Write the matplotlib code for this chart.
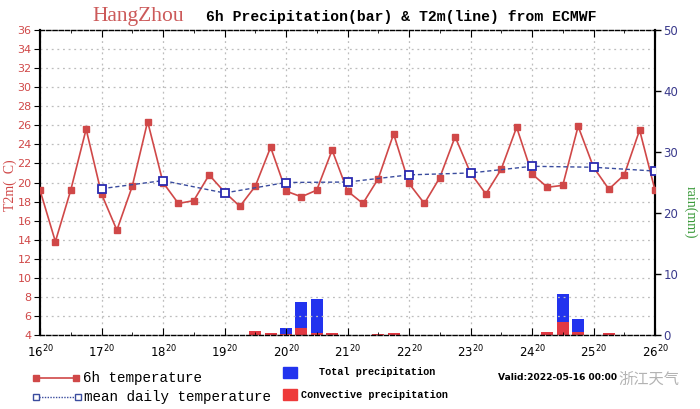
import matplotlib
matplotlib.use("Agg")
import matplotlib.pyplot as plt
from matplotlib.lines import Line2D
from matplotlib.patches import Rectangle
import numpy as np

# ---------------- data ----------------
days = [16, 17, 18, 19, 20, 21, 22, 23, 24, 25, 26]
tick_labels = [f"{d}$^{{20}}$" for d in days]

temp_6h = [19.2, 13.8, 19.2, 25.6, 18.8, 15.0, 19.6, 26.4, 20.0, 17.8,
           18.1, 20.8, 19.0, 17.5, 19.6, 23.7, 19.1, 18.5, 19.2, 23.4,
           19.1, 17.8, 20.4, 25.1, 19.9, 17.8, 20.5, 24.8, 21.0, 18.8,
           21.4, 25.8, 20.9, 19.5, 19.7, 25.9, 21.6, 19.3, 20.8, 25.5, 19.2]

mean_days = [17, 18, 19, 20, 21, 22, 23, 24, 25, 26]
temp_mean = [19.35, 20.2, 18.9, 20.0, 20.05, 20.8, 21.0, 21.7, 21.6, 21.2]

precip_idx = [14, 15, 16, 17, 18, 19, 22, 23, 33, 34, 35, 37]
precip_total = [0.7, 0.3, 1.2, 5.4, 5.85, 0.35, 0.1, 0.3, 0.55, 6.7, 2.6, 0.4]
precip_conv = [0.7, 0.25, 0.1, 1.2, 0.4, 0.25, 0.1, 0.3, 0.55, 2.2, 0.5, 0.3]

# ---------------- figure ----------------
W, H = 700, 409
fig = plt.figure(figsize=(W / 100, H / 100), dpi=100)
L, R, T, B = 40, 655, 30, 335
ax = fig.add_axes([L / W, 1 - B / H, (R - L) / W, (B - T) / H])
ax2 = ax.twinx()

off = 20 / 24
t0 = days[0] + off
x6 = [t0 + 0.25 * i for i in range(len(temp_6h))]
xm = [d + off for d in mean_days]

red = "#d04848"
blue = "#3a4c9e"

# bars on right axis
bw = 0.195
for i, tot, cv in zip(precip_idx, precip_total, precip_conv):
    xc = t0 + 0.25 * i
    ax2.bar(xc, tot, width=bw, color="#2233ee", edgecolor="none")
    ax2.bar(xc, cv, width=bw, color="#ee3a3a", edgecolor="none", alpha=0.95)

ax2.set_ylim(0, 50)
ax2.set_yticks([0, 10, 20, 30, 40, 50])
ax2.tick_params(axis="y", colors="black", labelcolor="#3a3a8c", labelsize=8.5,
                direction="out", length=4, width=1, pad=2)
ax2.set_ylabel("rain(mm)", family="Liberation Serif", fontsize=10, color="#3a9a3a",
               rotation=270, va="center")
ax2.yaxis.set_label_coords((690 - L) / (R - L), (B - 212) / (B - T))

# temperature lines
ax.set_zorder(ax2.get_zorder() + 1)
ax.patch.set_visible(False)
ax.plot(x6, temp_6h, color=red, lw=1.2, marker="s", ms=4.5, mfc=red, mec=red, zorder=4)
ax.plot(xm, temp_mean, color=blue, lw=1.0, ls=(0, (3, 2)), marker="s", ms=6,
        mfc="white", mec="#2a2ab0", mew=1.3, zorder=5)

ax.set_xlim(t0, days[-1] + off)
ax.set_ylim(4, 36)
ax.set_yticks(np.arange(4, 37, 2))
ax.set_xticks([d + off for d in days])
ax.set_xticklabels(tick_labels)
ax.set_xticks([t0 + 0.5 * k for k in range(21)], minor=True)
ax.tick_params(axis="y", labelcolor=red, labelsize=8, direction="out", length=4, pad=2)
ax.tick_params(axis="x", which="major", labelsize=8.5, direction="in", length=5,
               top=True, pad=6)
ax.tick_params(axis="x", which="minor", direction="in", length=2.5, top=True)
ax.set_ylabel("T2m(  C)", family="Liberation Serif", fontsize=10, color=red, va="center")
ax.yaxis.set_label_coords(-(L - 10) / (R - L), (B - 185) / (B - T))

ax.grid(True, axis="both", which="major", color="#bdbdbd", ls=(0, (1.5, 3)), lw=0.9)
for s in ["left", "right"]:
    ax.spines[s].set_linewidth(1.5)
    ax2.spines[s].set_linewidth(1.5)
for s in ["top", "bottom"]:
    ax.spines[s].set_linestyle((0, (3, 1.5)))
    ax.spines[s].set_linewidth(1.0)
    ax2.spines[s].set_visible(False)

# ---------------- title ----------------
fx = lambda x: x / W
fy = lambda y: 1 - y / H
fig.text(fx(92), fy(17), "HangZhou", family="Liberation Serif", fontsize=15.5,
         color="#cc5a5a", va="center", ha="left")
fig.text(fx(206), fy(17), "6h Precipitation(bar) & T2m(line) from ECMWF",
         family="Liberation Mono", fontweight="bold", fontsize=10.6,
         color="black", va="center", ha="left")

# ---------------- legend ----------------
fig.add_artist(Line2D([fx(36), fx(76)], [fy(378), fy(378)], color=red, lw=1.2,
                      marker="s", ms=4.5, mfc=red, mec=red, transform=fig.transFigure))
fig.text(fx(83), fy(378), "6h temperature", family="Liberation Mono", fontsize=10.3,
         va="center", ha="left")
fig.add_artist(Line2D([fx(36), fx(78)], [fy(397), fy(397)], color=blue, lw=1.0,
                      ls=(0, (1, 1)), marker="s", ms=5, mfc="white", mec=blue,
                      transform=fig.transFigure))
fig.text(fx(84), fy(397), "mean daily temperature", family="Liberation Mono",
         fontsize=10.3, va="center", ha="left")

fig.add_artist(Rectangle((fx(283), fy(378)), 14 / W, 11 / H, color="#2233ee",
                         transform=fig.transFigure))
fig.text(fx(319), fy(372), "Total precipitation", family="Liberation Mono",
         fontweight="bold", fontsize=7.3, va="center", ha="left")
fig.add_artist(Rectangle((fx(283), fy(400)), 14 / W, 11 / H, color="#ee3a3a",
                         transform=fig.transFigure))
fig.text(fx(301), fy(395), "Convective precipitation", family="Liberation Mono",
         fontweight="bold", fontsize=7.3, va="center", ha="left")

fig.text(fx(498), fy(377), "Valid:2022-05-16 00:00", family="DejaVu Sans",
         fontweight="bold", fontsize=6.6, va="center", ha="left")
fig.text(fx(618), fy(379), "浙江天气", family=["Noto Sans CJK SC", "DejaVu Sans"],
         fontsize=11, color="#9a9a9a", alpha=0.75, va="center", ha="left")

fig.savefig("out.png", dpi=100)
